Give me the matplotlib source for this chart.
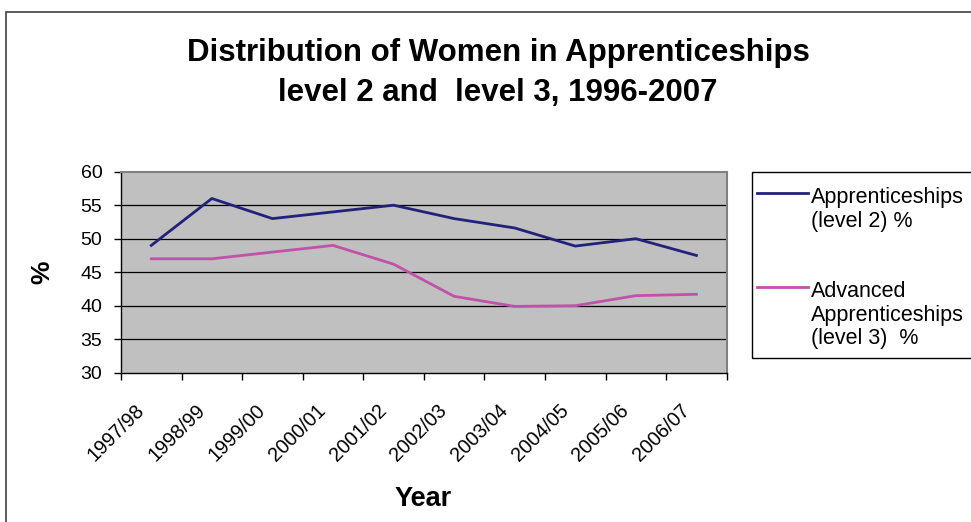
import matplotlib.pyplot as plt
import matplotlib.transforms as mtransforms
from matplotlib.lines import Line2D
from matplotlib.patches import Rectangle

plt.rcParams['font.family'] = ['Liberation Sans', 'DejaVu Sans']

years = ['1997/98', '1998/99', '1999/00', '2000/01', '2001/02',
         '2002/03', '2003/04', '2004/05', '2005/06', '2006/07']
level2 = [49.0, 56.0, 53.0, 54.0, 55.0, 53.0, 51.6, 48.9, 50.0, 47.5]
level3 = [47.0, 47.0, 48.0, 49.0, 46.2, 41.4, 39.9, 40.0, 41.5, 41.7]
labels = ['Apprenticeships\n(level 2) %',
          'Advanced\nApprenticeships\n(level 3)  %']
colors = ['#22227A', '#C052AA']

W, H = 971, 522
fig = plt.figure(figsize=(W / 100, H / 100), dpi=100)


def fx(px):
    return px / W


def fy(py):
    return 1 - py / H


# outer chart border (cut off at right and bottom)
fig.patches.append(Rectangle((fx(6), -0.1), 1.2, fy(12) + 0.1,
                             transform=fig.transFigure, fill=False,
                             edgecolor='#404040', linewidth=1.2))

ax = fig.add_axes([fx(121), fy(372.7), 605.7 / W, 201 / H])
ax.set_facecolor('#C0C0C0')

x = list(range(len(years)))
for vals, c in zip([level2, level3], colors):
    ax.plot(x, vals, color=c, linewidth=2.0)

ax.set_xlim(-0.5, len(years) - 0.5)
ax.set_ylim(30, 60)
ax.set_yticks(range(30, 61, 5))
for v in range(35, 60, 5):
    ax.axhline(v, color='black', linewidth=0.9, zorder=0.5)

# category boundaries get tick marks, labels sit under the centres
ax.set_xticks([i - 0.5 for i in range(len(years) + 1)])
ax.set_xticklabels([])
shift = mtransforms.ScaledTranslation(-12 / 72, -20 / 72, fig.dpi_scale_trans)
for i, yr in zip(x, years):
    ax.text(i, 0, yr, transform=ax.get_xaxis_transform() + shift,
            rotation=45, ha='right', va='top', rotation_mode='anchor',
            fontsize=14.3)
ax.tick_params(axis='x', length=5, direction='out', width=1)
ax.tick_params(axis='y', length=5, direction='out', labelsize=14, width=1,
               pad=8.5)

for s in ['top', 'right']:
    ax.spines[s].set_color('#808080')
    ax.spines[s].set_linewidth(1.5)
for s in ['left', 'bottom']:
    ax.spines[s].set_color('black')
    ax.spines[s].set_linewidth(1)

fig.text(fx(498), fy(61), 'Distribution of Women in Apprenticeships',
         ha='center', va='baseline', fontsize=22.5, fontweight='bold')
fig.text(fx(498), fy(101), 'level 2 and  level 3, 1996-2007',
         ha='center', va='baseline', fontsize=22.5, fontweight='bold')
fig.text(fx(42.5), fy(272), '%', rotation=90, ha='center',
         va='center', fontsize=19, fontweight='bold')
fig.text(fx(423), fy(506), 'Year', ha='center', va='baseline',
         fontsize=19.5, fontweight='bold')

# legend box, handles aligned with the first line of each label
fig.patches.append(Rectangle((fx(752), fy(358)), 1.0, fy(172) - fy(358),
                             transform=fig.transFigure, fill=False,
                             edgecolor='black', linewidth=1))
first_baseline = [203, 297]
handle_y = [193, 287]
for lab, c, b, hy in zip(labels, colors, first_baseline, handle_y):
    fig.add_artist(Line2D([fx(757), fx(808)], [fy(hy), fy(hy)],
                          transform=fig.transFigure, color=c, linewidth=2.0))
    for k, line in enumerate(lab.split('\n')):
        fig.text(fx(811), fy(b + 23.5 * k), line, ha='left', va='baseline',
                 fontsize=15.5)

fig.savefig('out.png', dpi=100)
